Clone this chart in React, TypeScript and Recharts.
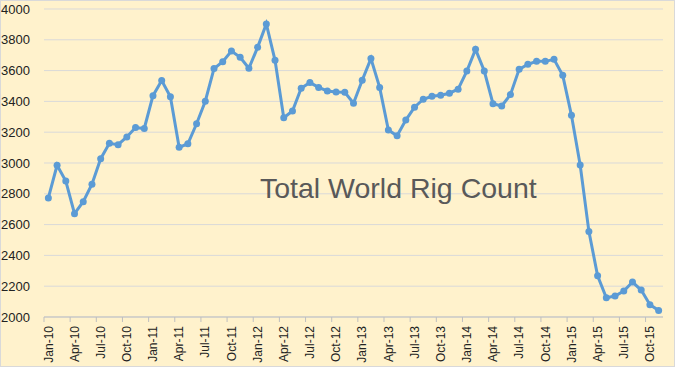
import { LineChart, Line, XAxis, YAxis, CartesianGrid } from 'recharts';

const months = ['Jan', 'Feb', 'Mar', 'Apr', 'May', 'Jun', 'Jul', 'Aug', 'Sep', 'Oct', 'Nov', 'Dec'];
const years = ['10', '11', '12', '13', '14', '15'];

// monthly world rig count, Jan-10 .. Nov-15
const rigCount = [
  2773, 2985, 2883, 2671, 2749, 2862, 3028, 3128, 3119, 3169, 3230, 3224,
  3437, 3535, 3430, 3102, 3125, 3255, 3401, 3613, 3658, 3727, 3686, 3615,
  3751, 3903, 3667, 3294, 3338, 3485, 3522, 3491, 3468, 3461, 3459, 3388,
  3537, 3678, 3491, 3214, 3177, 3279, 3362, 3414, 3433, 3440, 3453, 3479,
  3597, 3738, 3597, 3385, 3370, 3444, 3608, 3641, 3660, 3660, 3673, 3569,
  3310, 2987, 2556, 2268, 2125, 2136, 2169, 2227, 2175, 2080, 2043,
];

const yTicks = [2000, 2200, 2400, 2600, 2800, 3000, 3200, 3400, 3600, 3800, 4000];

const labels = years.flatMap(y => months.map(m => `${m}-${y}`)).slice(0, rigCount.length);
const data = labels.map((month, i) => ({ month, rigs: rigCount[i] }));

const HALF_BAND = 4.36;

function MonthTick(props: any) {
  const { x, y, payload } = props;
  return (
    <g>
      <line x1={x - HALF_BAND} x2={x - HALF_BAND} y1={y} y2={y + 5} stroke="#bfbfbf" />
      <text
        transform={`translate(${x},${y + 9}) rotate(-90)`}
        textAnchor="end"
        dy="0.35em"
        fontSize={12}
        fill="#222"
        fontFamily="Liberation Sans, Arial, sans-serif"
      >
        {payload.value}
      </text>
    </g>
  );
}

export default function App() {
  return (
    <div
      style={{
        position: 'fixed',
        left: 0,
        top: 0,
        width: 675,
        height: 367,
        background: '#FFF2CC',
        border: '1px solid #d9d9d9',
        boxSizing: 'border-box',
      }}
    >
      <div style={{ position: 'absolute', left: -1, top: -1 }}>
        <LineChart width={675} height={367} data={data} margin={{ top: 9, right: 12, bottom: 0, left: 0 }}>
          <CartesianGrid vertical={false} stroke="#d9d9d9" />
          <XAxis
            dataKey="month"
            interval={2}
            padding={{ left: HALF_BAND, right: HALF_BAND }}
            height={50}
            tickLine={false}
            tickSize={0}
            tickMargin={0}
            stroke="#bfbfbf"
            tick={<MonthTick />}
          />
          <YAxis
            domain={[2000, 4000]}
            ticks={yTicks}
            width={44}
            axisLine={false}
            tickLine={false}
            tickSize={0}
            tickMargin={14}
            tick={{ fontSize: 13, fill: '#222', fontFamily: 'Liberation Sans, Arial, sans-serif' }}
          />
          <Line
            dataKey="rigs"
            stroke="#5B9BD5"
            strokeWidth={3}
            dot={{ r: 3.5, fill: '#5B9BD5', stroke: '#5B9BD5', strokeWidth: 0 }}
            isAnimationActive={false}
          />
        </LineChart>
      </div>
      <div
        style={{
          position: 'absolute',
          left: 259,
          top: 170,
          fontFamily: 'Liberation Sans, Arial, sans-serif',
          fontSize: 28.5,
          color: '#595959',
          whiteSpace: 'nowrap',
          lineHeight: '34px',
        }}
      >
        Total World Rig Count
      </div>
    </div>
  );
}
